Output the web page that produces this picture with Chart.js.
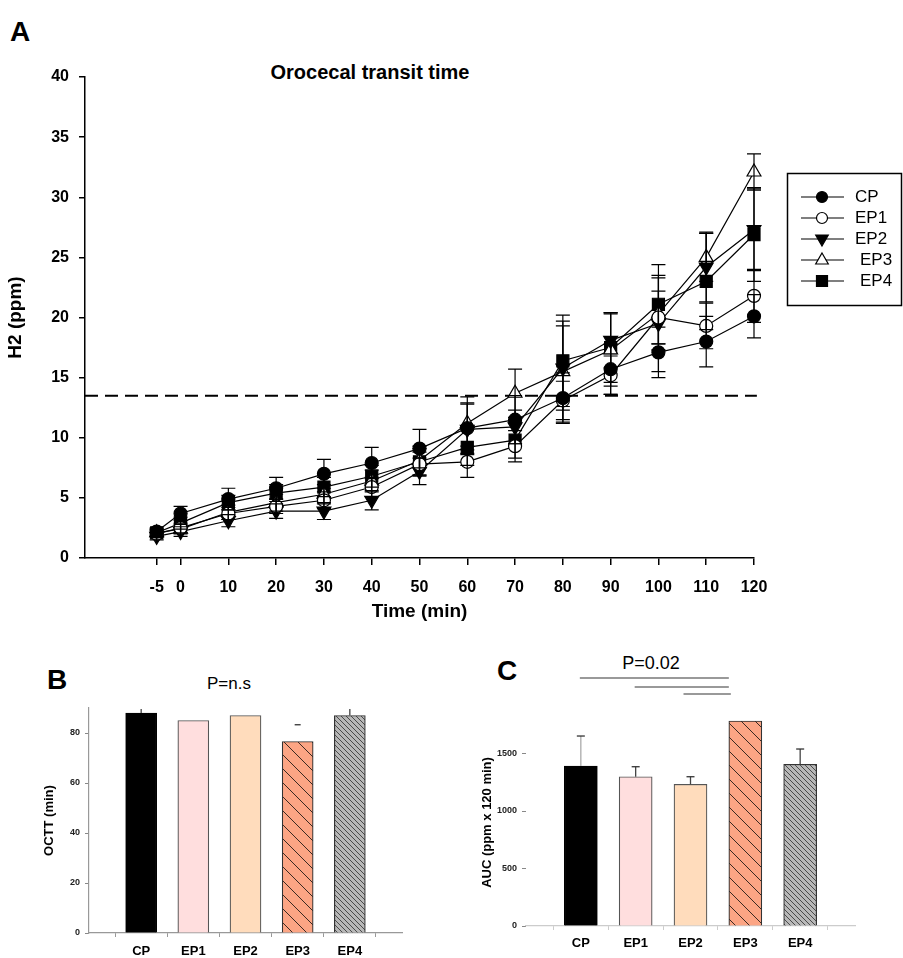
<!DOCTYPE html>
<html>
<head>
<meta charset="utf-8">
<script src="https://cdn.jsdelivr.net/npm/chart.js@4.4.1/dist/chart.umd.min.js"></script>
<style>
  body { margin: 0; background: #fff; width: 903px; height: 958px; position: relative; overflow: hidden;
         font-family: "Liberation Sans", Arial, sans-serif; }
  canvas { position: absolute; }
  .lbl { position: absolute; line-height: 1; white-space: nowrap; color: #000; }
</style>
</head>
<body>
<div class="lbl" style="left:10px;top:18px;font-size:28px;font-weight:bold">A</div>
<div class="lbl" style="left:370px;top:62px;font-size:20px;font-weight:bold;transform:translateX(-50%)">Orocecal transit time</div>
<div class="lbl" style="left:47px;top:666px;font-size:28px;font-weight:bold">B</div>
<div class="lbl" style="left:229px;top:675px;font-size:17px;transform:translateX(-50%)">P=n.s</div>
<div class="lbl" style="left:497px;top:657px;font-size:28px;font-weight:bold">C</div>
<div class="lbl" style="left:651px;top:654px;font-size:18px;transform:translateX(-50%)">P=0.02</div>

<canvas id="chartA" width="903" height="630" style="left:0;top:0"></canvas>
<canvas id="chartB" width="450" height="318" style="left:0;top:640px"></canvas>
<canvas id="chartC" width="453" height="318" style="left:450px;top:640px"></canvas>

<script>
/* --------------- Panel A data: H2 (ppm) over time --------------- */
const times   = [-5, 0, 10, 20, 30, 40, 50, 60, 70, 80, 90, 100, 110, 120];
const cpMean  = [2.2, 3.7, 4.9, 5.8, 7.0, 7.9, 9.1, 10.8, 11.5, 13.3, 15.7, 17.1, 18.0, 20.1];
const cpErr   = [0.3, 0.6, 0.9, 0.9, 1.2, 1.3, 1.6, 2.1, 2.0, 2.1, 2.1, 2.1, 2.1, 1.8];
const ep1Mean = [2.0, 2.5, 3.7, 4.3, 4.8, 5.9, 7.8, 8.0, 9.3, 13.1, 15.2, 20.0, 19.3, 21.8];
const ep1Err  = [0.3, 0.4, 0.5, 0.6, 0.7, 0.8, 1.0, 1.3, 1.3, 1.6, 1.6, 2.2, 1.9, 2.2];
const ep2Mean = [1.8, 2.2, 3.1, 3.9, 3.9, 4.8, 7.2, 10.7, 10.9, 15.8, 18.1, 19.5, 24.2, 27.3];
const ep2Err  = [0.3, 0.4, 0.5, 0.6, 0.7, 0.8, 1.1, 2.1, 1.4, 3.5, 2.3, 4.0, 2.9, 3.4];
const ep3Mean = [2.1, 2.4, 3.8, 4.6, 5.3, 6.4, 8.1, 11.2, 13.7, 15.5, 17.3, 20.3, 25.0, 32.1];
const ep3Err  = [0.3, 0.4, 0.6, 0.7, 0.8, 0.9, 1.2, 2.2, 2.0, 4.2, 3.0, 3.0, 2.0, 1.5];
const ep4Mean = [2.1, 2.9, 4.6, 5.4, 5.9, 6.8, 8.0, 9.2, 9.8, 16.4, 17.5, 21.1, 23.0, 26.9];
const ep4Err  = [0.3, 0.5, 0.6, 0.7, 0.8, 0.9, 1.1, 1.5, 1.5, 3.8, 2.9, 3.3, 4.0, 3.9];
const cutoff  = 13.5;
const yTicksA = [0, 5, 10, 15, 20, 25, 30, 35, 40];

/* --------------- Panels B / C data --------------- */
const groups   = ["CP", "EP1", "EP2", "EP3", "EP4"];
const octtMean = [88, 85, 87, 76.6, 87];
const octtErr  = [1.6, 0, 0, 6.7, 2.6];
const octtTicks = [0, 20, 40, 60, 80];
const aucMean  = [1391, 1298, 1232, 1783, 1406];
const aucErr   = [261, 87, 66, 0, 133];
const aucTicks = [0, 500, 1000, 1500];
const sigPairs = [[0, 3], [1, 3], [2, 3]];

const FONT = '"Liberation Sans", Arial, sans-serif';
Chart.defaults.font.family = FONT;
Chart.defaults.color = "#000";
Chart.defaults.animation = false;

/* --------------- Marker helper (legend) --------------- */
const drawMarker = (ctx, style, x, y, fill) => {
    ctx.beginPath();
    if (style === "circle") {
        ctx.arc(x, y, 5.5, 0, Math.PI * 2);
    } else if (style === "triangle") {
        ctx.moveTo(x, y - 7); ctx.lineTo(x + 6.3, y + 4); ctx.lineTo(x - 6.3, y + 4); ctx.closePath();
    } else if (style === "triangleDown") {
        ctx.moveTo(x, y + 7); ctx.lineTo(x + 6.3, y - 4); ctx.lineTo(x - 6.3, y - 4); ctx.closePath();
    } else {
        ctx.rect(x - 5.5, y - 5.5, 11, 11);
    }
    ctx.fillStyle = fill;
    ctx.fill();
    ctx.lineWidth = 1.2;
    ctx.strokeStyle = "#000";
    ctx.stroke();
};

/* --------------- Panel A plugins --------------- */
const errorBarsA = {
    id: "errorBarsA",
    afterDatasetsDraw(chart) {
        const { ctx, scales: { x, y } } = chart;
        ctx.save();
        ctx.strokeStyle = "#000";
        ctx.lineWidth = 1.2;
        chart.data.datasets.forEach((ds) => {
            if (!ds.errors) return;
            ds.data.forEach((p, j) => {
                const px = x.getPixelForValue(p.x);
                const top = y.getPixelForValue(p.y + ds.errors[j]);
                const bot = y.getPixelForValue(p.y - ds.errors[j]);
                ctx.beginPath();
                ctx.moveTo(px, top); ctx.lineTo(px, bot);
                ctx.moveTo(px - 7, top); ctx.lineTo(px + 7, top);
                ctx.moveTo(px - 7, bot); ctx.lineTo(px + 7, bot);
                ctx.stroke();
            });
        });
        ctx.restore();
    },
};

const legendA = {
    id: "legendA",
    afterDraw(chart) {
        const ctx = chart.ctx;
        ctx.save();
        ctx.strokeStyle = "#000";
        ctx.lineWidth = 1.5;
        ctx.strokeRect(787.5, 173.5, 114, 132);
        ctx.font = "17px " + FONT;
        ctx.textBaseline = "middle";
        let row = 0;
        chart.data.datasets.forEach((ds) => {
            if (!ds.marker) return;
            const yy = 197 + row * 21;
            ctx.beginPath();
            ctx.moveTo(801, yy); ctx.lineTo(844, yy);
            ctx.lineWidth = 1.2;
            ctx.strokeStyle = "#000";
            ctx.stroke();
            drawMarker(ctx, ds.marker, 822, yy, ds.pointBackgroundColor);
            ctx.fillStyle = "#000";
            ctx.fillText(ds.label, row >= 3 ? 860 : 855, yy);
            row++;
        });
        ctx.restore();
    },
};

/* --------------- Panel A chart --------------- */
const seriesA = [
    { label: "CP",  mean: cpMean,  err: cpErr,  style: "circle",   marker: "circle",       fill: "#000", r: 6.5, rot: 0 },
    { label: "EP1", mean: ep1Mean, err: ep1Err, style: "circle",   marker: "circle",       fill: "#fff", r: 6.5, rot: 0 },
    { label: "EP2", mean: ep2Mean, err: ep2Err, style: "triangle", marker: "triangleDown", fill: "#000", r: 8,   rot: 180 },
    { label: "EP3", mean: ep3Mean, err: ep3Err, style: "triangle", marker: "triangle",     fill: "#fff", r: 8,   rot: 0 },
    { label: "EP4", mean: ep4Mean, err: ep4Err, style: "rect",     marker: "rect",         fill: "#000", r: 8.5, rot: 0 },
];

const datasetsA = seriesA.map((s) => ({
    label: s.label,
    data: times.map((t, i) => ({ x: t, y: s.mean[i] })),
    errors: s.err,
    marker: s.marker,
    borderColor: "#000",
    borderWidth: 1.2,
    pointStyle: s.style,
    pointRotation: s.rot,
    pointRadius: s.r,
    pointBackgroundColor: s.fill,
    pointBorderColor: "#000",
    pointBorderWidth: 1.2,
    clip: false,
}));
datasetsA.push({
    label: "cutoff",
    data: [{ x: -20, y: cutoff }, { x: 120.6, y: cutoff }],
    borderColor: "#000",
    borderWidth: 2,
    borderDash: [13, 7],
    pointRadius: 0,
    clip: false,
});

new Chart(document.getElementById("chartA"), {
    type: "line",
    data: { datasets: datasetsA },
    plugins: [errorBarsA, legendA],
    options: {
        responsive: false,
        layout: { padding: { top: 77, right: 149, left: 0, bottom: 0 } },
        plugins: { legend: { display: false }, tooltip: { enabled: false } },
        scales: {
            x: {
                type: "linear",
                min: -20,
                max: 120,
                afterBuildTicks: (scale) => { scale.ticks = times.map((t) => ({ value: t })); },
                afterFit: (scale) => { scale.height = 72; },
                border: { display: true, color: "#000", width: 1.5 },
                grid: { drawOnChartArea: false, drawTicks: true, tickLength: 7, color: "#000", lineWidth: 1.5 },
                ticks: { font: { size: 16, weight: "bold" }, padding: 13, maxRotation: 0, autoSkip: false },
                title: { display: true, text: "Time (min)", font: { size: 19, weight: "bold" }, padding: { top: 0, bottom: 6.6 } },
            },
            y: {
                min: 0,
                max: 40,
                afterBuildTicks: (scale) => { scale.ticks = yTicksA.map((v) => ({ value: v })); },
                afterFit: (scale) => { scale.width = 85; },
                border: { display: true, color: "#000", width: 1.5 },
                grid: { drawOnChartArea: false, drawTicks: true, tickLength: 6, color: "#000", lineWidth: 1.5 },
                ticks: { font: { size: 16, weight: "bold" }, padding: 10 },
                title: { display: true, text: "H2 (ppm)", font: { size: 19, weight: "bold" }, padding: { top: 4, bottom: 0 } },
            },
        },
    },
});

/* --------------- Hatch patterns --------------- */
const hatch = (ctxTarget, bg, line, step, lw) => {
    const c = document.createElement("canvas");
    c.width = step; c.height = step;
    const g = c.getContext("2d");
    g.fillStyle = bg;
    g.fillRect(0, 0, step, step);
    g.strokeStyle = line;
    g.lineWidth = lw;
    g.beginPath();
    for (let k = -1; k <= 1; k++) { g.moveTo(k * step, 0); g.lineTo(k * step + step, step); }
    g.stroke();
    return ctxTarget.createPattern(c, "repeat");
};

/* stems go up from the bar top; caps only where opts.capOnly says so (panel B) or everywhere (panel C) */
const barErrors = {
    id: "barErrors",
    afterDatasetsDraw(chart, args, opts) {
        const ctx = chart.ctx;
        const ds = chart.data.datasets[0];
        const meta = chart.getDatasetMeta(0);
        ctx.save();
        ctx.lineWidth = 1.3;
        meta.data.forEach((bar, i) => {
            const e = ds.errors[i];
            if (!e) return;
            const top = chart.scales.y.getPixelForValue(ds.data[i].y + e);
            const capOnly = opts.capOnly && opts.capOnly.includes(i);
            if (!capOnly) {
                ctx.strokeStyle = i === 0 && !opts.capOnly ? "#aaa" : "#444";
                ctx.beginPath();
                ctx.moveTo(bar.x, bar.y); ctx.lineTo(bar.x, top);
                ctx.stroke();
            }
            if (capOnly || !opts.capOnly) {
                ctx.strokeStyle = "#333";
                ctx.beginPath();
                ctx.moveTo(bar.x - opts.cap, top); ctx.lineTo(bar.x + opts.cap, top);
                ctx.stroke();
            }
        });
        ctx.restore();
    },
};

const barChart = (id, values, errors, tickValues, yOpts, pad, yWidth, xHeight, extra) => {
    const canvas = document.getElementById(id);
    const ctx = canvas.getContext("2d");
    const fills = ["#000", "#ffdede", "#ffdcbc", hatch(ctx, "#fca584", "#3a2a22", 14, 1), hatch(ctx, "#b8b8b8", "#4a4a4a", 5, 1)];
    return new Chart(canvas, {
        type: "bar",
        data: {
            datasets: [{
                data: values.map((v, i) => ({ x: i + 1, y: v })),
                errors: errors,
                backgroundColor: fills,
                borderColor: ["#000", "#555", "#555", "#333", "#333"],
                borderWidth: 1.2,
                barThickness: extra.barWidth,
            }],
        },
        plugins: [barErrors].concat(extra.plugins || []),
        options: {
            responsive: false,
            layout: { padding: pad },
            plugins: { legend: { display: false }, tooltip: { enabled: false }, barErrors: extra.errOpts },
            scales: {
                x: {
                    type: "linear",
                    offset: false,
                    min: 0,
                    max: 6,
                    afterBuildTicks: (scale) => { scale.ticks = groups.map((g, i) => ({ value: i + 1 })); },
                    afterFit: (scale) => { scale.height = xHeight; },
                    border: { display: true, color: extra.xAxisColor, width: 1.2 },
                    grid: { drawOnChartArea: false, drawTicks: true, tickLength: 4, color: extra.xAxisColor },
                    ticks: {
                        font: { size: 13, weight: "bold" },
                        padding: extra.xPad,
                        maxRotation: 0,
                        autoSkip: false,
                        callback: (v) => groups[v - 1] || "",
                    },
                },
                y: Object.assign({
                    afterBuildTicks: (scale) => { scale.ticks = tickValues.map((v) => ({ value: v })); },
                    afterFit: (scale) => { scale.width = yWidth; },
                    grid: { drawOnChartArea: false, drawTicks: true, tickLength: 4, color: "#888" },
                    ticks: { font: { size: 9, weight: "bold" }, color: "#222", padding: 5, callback: (v) => String(v) },
                }, yOpts),
            },
        },
    });
};

/* --------------- Panel B --------------- */
barChart("chartB", octtMean, octtErr, octtTicks, {
    min: 0,
    max: 90,
    border: { display: true, color: "#999", width: 1.2 },
    title: { display: true, text: "OCTT (min)", font: { size: 13, weight: "bold" }, padding: { top: 42, bottom: 0 } },
}, { top: 68, right: 48, left: 0, bottom: 0 }, 89, 25,
   { barWidth: 31, xPad: 7, xAxisColor: "#999", errOpts: { cap: 3, capOnly: [3] } });

/* --------------- Panel C --------------- */
const sigLines = {
    id: "sigLines",
    afterDraw(chart) {
        const { ctx, scales: { x }, chartArea } = chart;
        const meta = chart.getDatasetMeta(0);
        const offsets = [-41, -32, -25];
        ctx.save();
        ctx.strokeStyle = "#777";
        ctx.lineWidth = 1.5;
        sigPairs.forEach(([a, b], k) => {
            const x0 = x.getPixelForValue(a + 1) - (k === 2 ? 7 : 1);
            const x1 = meta.data[b].x - meta.data[b].width / 2 + (k === 2 ? 2 : 0);
            const yy = chartArea.top + offsets[k];
            ctx.beginPath();
            ctx.moveTo(x0, yy); ctx.lineTo(x1, yy);
            ctx.stroke();
        });
        ctx.restore();
    },
};

barChart("chartC", aucMean, aucErr, aucTicks, {
    min: 0,
    max: 1800,
    border: { display: false },
    title: { display: true, text: "AUC (ppm x 120 min)", font: { size: 13, weight: "bold" }, padding: { top: 30, bottom: 0 } },
}, { top: 79, right: 48, left: 0, bottom: 0 }, 76, 32,
   { barWidth: 33, xPad: 6, xAxisColor: "#ccc", plugins: [sigLines], errOpts: { cap: 4 } });
</script>
</body>
</html>
